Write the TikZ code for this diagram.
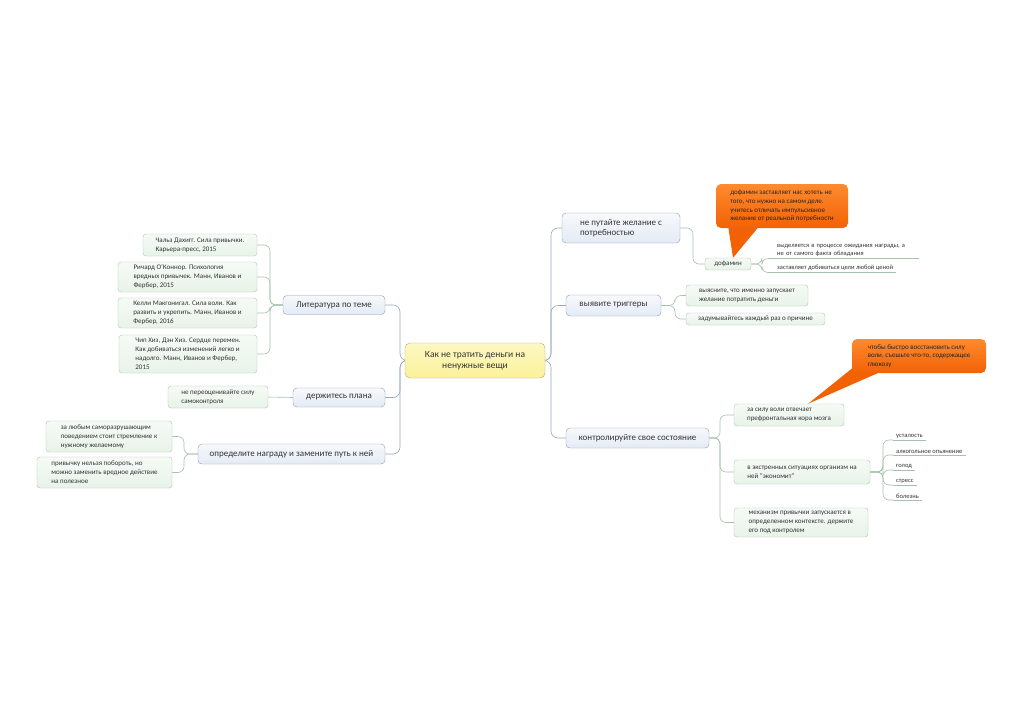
\documentclass[tikz,border=0pt]{standalone}
\usepackage{fontspec}
\setmainfont{Carlito}[Ligatures=NoCommon]
\usepackage{xcolor}
\usetikzlibrary{positioning,backgrounds}
\definecolor{rootfill}{HTML}{FBF29A}
\definecolor{rootline}{HTML}{B3AC74}
\definecolor{topicfill}{HTML}{E4EBF5}
\definecolor{topicline}{HTML}{8E9DB4}
\definecolor{leaffill}{HTML}{E8F3E8}
\definecolor{leafline}{HTML}{A9CBAF}
\definecolor{linkc}{HTML}{98A8B8}
\definecolor{leaflink}{HTML}{A6C2AE}
\definecolor{notetop}{HTML}{FF8A2E}
\definecolor{notefill}{HTML}{F26205}
\definecolor{inkc}{HTML}{333333}

\begin{document}
\begin{tikzpicture}[
  x=1pt, y=-1pt,
  root/.style={draw=rootline, top color=rootfill!60!white, bottom color=rootfill,
               rounded corners=5pt, align=center, text=inkc,
               font=\fontsize{9.5}{11.5}\selectfont, minimum width=140pt, minimum height=35pt},
  topic/.style={draw=topicline, top color=topicfill!30!white, bottom color=topicfill,
                rounded corners=4pt, align=left, text=inkc,
                font=\fontsize{9}{10.5}\selectfont, minimum height=19pt},
  leaf/.style={draw=leafline, top color=leaffill!40!white, bottom color=leaffill,
               rounded corners=3pt, align=left, text=inkc, inner ysep=2pt,
               font=\fontsize{7}{9}\selectfont},
  note/.style={top color=notetop, bottom color=notefill, rounded corners=5pt,
               align=left, text=black!85, font=\fontsize{7}{8.7}\selectfont},
  tag/.style={inner xsep=3pt, inner ysep=1.5pt, align=left, text=inkc,
              font=\fontsize{6.5}{7.8}\selectfont},
  link/.style={draw=linkc, line width=0.6pt, rounded corners=7pt},
  leaflink/.style={draw=leaflink, line width=0.6pt, rounded corners=6pt},
  underl/.style={draw=leaflink, line width=0.5pt}
]
\useasboundingbox (0,0) rectangle (1024,723);

% central topic
\node[root] (root) at (475,360.5) {Как не тратить деньги на\\ненужные вещи};

% left side
\node[topic, minimum width=102pt] (lit) at (334,305) {Литература по теме};
\node[topic, minimum width=92pt] (plan) at (339,397.5) {держитесь плана};
\node[topic, minimum width=187pt, minimum height=20pt] (reward) at (291.5,454) {определите награду и замените путь к ней};

\node[leaf, minimum width=114pt, minimum height=22pt] (duhigg) at (200,245) {Чальз Дахигг. Сила привычки.\\Карьера-пресс, 2015};
\node[leaf, minimum width=139pt, minimum height=30pt] (oconnor) at (187.5,277) {Ричард О’Коннор. Психология\\вредных привычек. Манн, Иванов и\\Фербер, 2015};
\node[leaf, minimum width=139pt, minimum height=30pt] (mcgonigal) at (187.5,313) {Келли Макгонигал. Сила воли. Как\\развить и укрепить. Манн, Иванов и\\Фербер, 2016};
\node[leaf, minimum width=138pt, minimum height=38pt] (heath) at (188,354) {Чип Хиз, Дэн Хиз. Сердце перемен.\\Как добиваться изменений легко и\\надолго. Манн, Иванов и Фербер,\\2015};
\node[leaf, minimum width=100pt, minimum height=22pt] (selfctl) at (218,397) {не переоценивайте силу\\самоконтроля};
\node[leaf, minimum width=126pt, minimum height=31pt] (behind) at (109,436.5) {за любым саморазрушающим\\поведением стоит стремление к\\нужному желаемому};
\node[leaf, minimum width=135pt, minimum height=31pt] (replace) at (104.5,472.5) {привычку нельзя побороть, но\\можно заменить вредное действие\\на полезное};

% right side
\node[topic, minimum width=118pt, minimum height=30pt] (confuse) at (621,228) {не путайте желание с\\потребностью};
\node[topic, minimum width=95pt, minimum height=21pt] (trig) at (613.5,305.5) {выявите триггеры};
\node[topic, minimum width=143pt, minimum height=20pt] (state) at (637.5,438) {контролируйте свое состояние};

\node[leaf, minimum width=46pt, minimum height=12pt, inner ysep=1pt] (dopa) at (728,264) {дофамин};
\node[tag, anchor=south west, text width=139pt] (expect) at (774,258.5) {выделяется в процессе ожидания награды, а\\не от самого факта обладания};
\node[tag, anchor=south west] (price) at (774,272.5) {заставляет добиваться цели любой ценой};

\node[leaf, minimum width=122pt, minimum height=21pt] (find) at (747,295.5) {выясните, что именно запускает\\желание потратить деньги};
\node[leaf, minimum width=139pt, minimum height=12pt, inner ysep=1pt] (reason) at (755.5,319) {задумывайтесь каждый раз о причине};

\node[leaf, minimum width=110pt, minimum height=22pt] (cortex) at (789,415) {за силу воли отвечает\\префронтальная кора мозга};
\node[leaf, minimum width=136pt, minimum height=24pt] (economy) at (802,472) {в экстренных ситуациях организм на\\ней "экономит"};
\node[leaf, minimum width=134pt, minimum height=29pt] (context) at (801,522.5) {механизм привычки запускается в\\определенном контексте. держите\\его под контролем};

\foreach \name/\txt [count=\i] in {tired/усталость, drunk/алкогольное опьянение, hunger/голод, stress/стресс, ill/болезнь}
  \node[tag, anchor=south west] (\name) at (893,425+15*\i) {\txt};

% callouts
\node[note, minimum width=132pt, minimum height=44pt] (hint) at (782,206) {дофамин заставляет нас хотеть не\\того, что нужно на самом деле.\\учитесь отличать импульсивное\\желание от реальной потребности};
\node[note, minimum width=134pt, minimum height=34pt] (glucose) at (919,356) {чтобы быстро восстановить силу\\воли, съешьте что-то, содержащее\\глюкозу};

\begin{scope}[on background layer]
  \fill[white] (0,0) rectangle (1024,723);
  \fill[notefill] ([xshift=-54pt,yshift=3pt]hint.south) -- ([xshift=5pt]dopa.north) -- ([xshift=-22pt,yshift=3pt]hint.south) -- cycle;
  \fill[notefill] ([xshift=3pt,yshift=7pt]glucose.south west) -- ([xshift=19pt]cortex.north) -- ([xshift=28pt,yshift=1pt]glucose.south west) -- cycle;

  % main branches
  \coordinate (lhub) at (400,360.5);
  \coordinate (rhub) at (551,360.5);
  \foreach \t in {lit,plan,reward}
    \draw[link] (root.west) -- (lhub) |- (\t.east);
  \foreach \t in {confuse,trig,state}
    \draw[link] (root.east) -- (rhub) |- (\t.west);

  % sub branches
  \foreach \t in {duhigg,oconnor,mcgonigal,heath}
    \draw[leaflink] (lit.west) -- (270,305) |- (\t.east);
  \draw[leaflink] (plan.west) -- (selfctl.east);
  \foreach \t in {behind,replace}
    \draw[leaflink] (reward.west) -- (184,454) |- (\t.east);
  \draw[leaflink] (confuse.east) -- (693,228) |- (dopa.west);
  \foreach \t in {expect,price} {
    \draw[leaflink] (dopa.east) -- (762,264) |- (\t.south west);
    \draw[underl] (\t.south west) -- (\t.south east);
  }
  \foreach \t in {find,reason}
    \draw[leaflink] (trig.east) -- (675,305.5) |- (\t.west);
  \foreach \t in {cortex,economy,context}
    \draw[leaflink] (state.east) -- (720,438) |- (\t.west);
  \foreach \t in {tired,drunk,hunger,stress,ill} {
    \draw[leaflink] (economy.east) -- (883,472) |- (\t.south west);
    \draw[underl] (\t.south west) -- (\t.south east);
  }
\end{scope}
\end{tikzpicture}
\end{document}
